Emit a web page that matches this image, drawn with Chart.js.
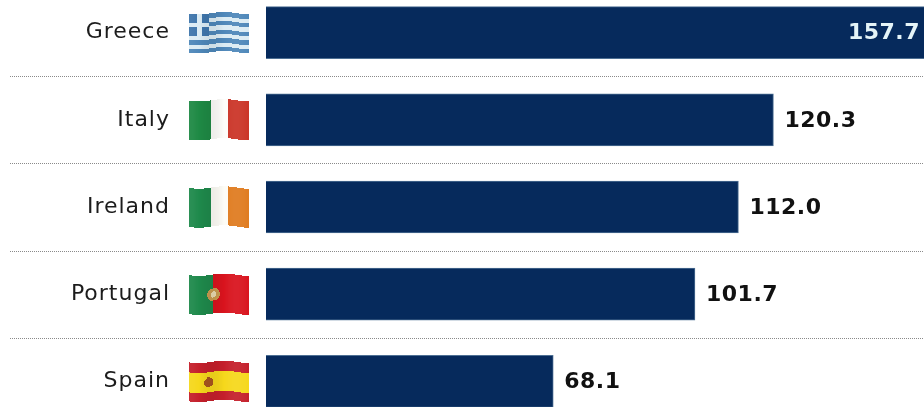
<!DOCTYPE html>
<html>
<head>
<meta charset="utf-8">
<script src="https://cdn.jsdelivr.net/npm/chart.js@4"></script>
<style>
  html, body { margin: 0; padding: 0; background: #fff; overflow: hidden; }
  #wrap { position: relative; width: 924px; height: 407px; overflow: hidden; }
  #myChart { position: absolute; left: 0; top: -11px; filter: blur(0.45px); }
</style>
</head>
<body>
<div id="wrap"><canvas id="myChart" width="924" height="436"></canvas></div>
<script>
const countries = ["Greece", "Italy", "Ireland", "Portugal", "Spain"];
const debt = [157.7, 120.3, 112.0, 101.7, 68.1];

// flag painters, u and v go 0..1 across the flag
const flags = {
  Greece: function (u, v) {
    if (u < 0.33 && v < 5 / 9) {
      const cross = Math.abs(u - 0.165) < 0.04 || Math.abs(v - 2.5 / 9) < 0.05;
      return cross ? "#dcecf4" : "#3f76ac";
    }
    return Math.floor(v * 9) % 2 === 0 ? "#4f88ba" : "#dcecf4";
  },
  Italy: function (u) {
    return u < 0.36 ? "#1f8a45" : u < 0.64 ? "#fdfdfa" : "#cb3528";
  },
  Ireland: function (u) {
    return u < 0.36 ? "#1f8a4c" : u < 0.64 ? "#fdfcf6" : "#e07c20";
  },
  Portugal: function (u, v) {
    const d = Math.hypot((u - 0.4) * 1.5, v - 0.5);
    if (d < 0.07) return "#e8d8b0";
    if (d < 0.16) return "#c89a50";
    return u < 0.4 ? "#1f8a4c" : "#d9141e";
  },
  Spain: function (u, v) {
    const d = Math.hypot((u - 0.32) * 1.5, v - 0.5);
    if (d < 0.12) return "#a8551f";
    return v < 0.25 || v > 0.75 ? "#c5202c" : "#f6d81c";
  }
};

function drawFlag(ctx, name, left, cy) {
  const w = 60, h = 39;
  for (let x = 0; x < w; x++) {
    const u = x / w;
    const top = Math.round(cy - h / 2 + 1.2 * Math.sin(u * 7.5 + 0.4));
    const shade = 0.06 * Math.cos(u * 7.5 + 0.4);
    for (let y = 0; y < h; y++) {
      ctx.fillStyle = flags[name](u, y / h);
      ctx.fillRect(left + x, top + y, 1, 1);
    }
    ctx.fillStyle = shade > 0 ? "rgba(255,255,255," + shade + ")" : "rgba(0,0,0," + (-shade) + ")";
    ctx.fillRect(left + x, top, 1, h);
  }
}

const extras = {
  id: "extras",
  beforeDraw: function (chart) {
    chart.ctx.letterSpacing = "1px";
  },
  afterDraw: function (chart) {
    const ctx = chart.ctx;
    const xs = chart.scales.x;
    const ys = chart.scales.y;
    const step = ys.getPixelForValue(1) - ys.getPixelForValue(0);
    ctx.save();

    // dotted row separators
    ctx.strokeStyle = "#8a8a8a";
    ctx.lineWidth = 1;
    ctx.setLineDash([1, 1]);
    for (let i = 0; i < countries.length - 1; i++) {
      const y = Math.round(ys.getPixelForValue(i) + step / 2) + 0.5;
      ctx.beginPath();
      ctx.moveTo(10, y);
      ctx.lineTo(chart.width, y);
      ctx.stroke();
    }
    ctx.setLineDash([]);

    ctx.letterSpacing = "0.5px";
    countries.forEach(function (name, i) {
      const cy = ys.getPixelForValue(i);
      drawFlag(ctx, name, 189, cy);

      // value labels, the one that does not fit goes inside the bar
      const end = xs.getPixelForValue(debt[i]);
      const inside = end > chart.width - 80;
      ctx.font = "bold 22px 'DejaVu Sans'";
      ctx.textBaseline = "middle";
      ctx.textAlign = inside ? "right" : "left";
      ctx.fillStyle = inside ? "#e4f4f8" : "#111111";
      ctx.fillText(debt[i].toFixed(1), inside ? chart.width - 4 : end + 11, cy + 1);
    });
    ctx.restore();
    ctx.letterSpacing = "0px";
  }
};

var ctx = document.getElementById("myChart").getContext("2d");
var myChart = new Chart(ctx, {
  type: "bar",
  data: {
    labels: countries,
    datasets: [
      {
        data: debt,
        backgroundColor: "#062a5c",
        borderColor: "#4d6f93",
        borderWidth: 1,
        barThickness: 52,
      },
    ],
  },
  options: {
    indexAxis: "y",
    responsive: false,
    animation: false,
    layout: { padding: 0 },
    plugins: {
      legend: { display: false },
      tooltip: { enabled: false },
    },
    scales: {
      x: {
        display: false,
        min: 0,
        max: 156,
      },
      y: {
        afterFit: function (scale) {
          // tick padding also gets added above and below, drop that
          scale.width = 266;
          scale.paddingTop = 0;
          scale.paddingBottom = 0;
        },
        border: { display: false },
        grid: { display: false, drawTicks: false },
        ticks: {
          padding: 96,
          color: "#1c1c1c",
          font: { family: "'DejaVu Sans'", size: 22 },
        },
      },
    },
  },
  plugins: [extras],
});
</script>
</body>
</html>
